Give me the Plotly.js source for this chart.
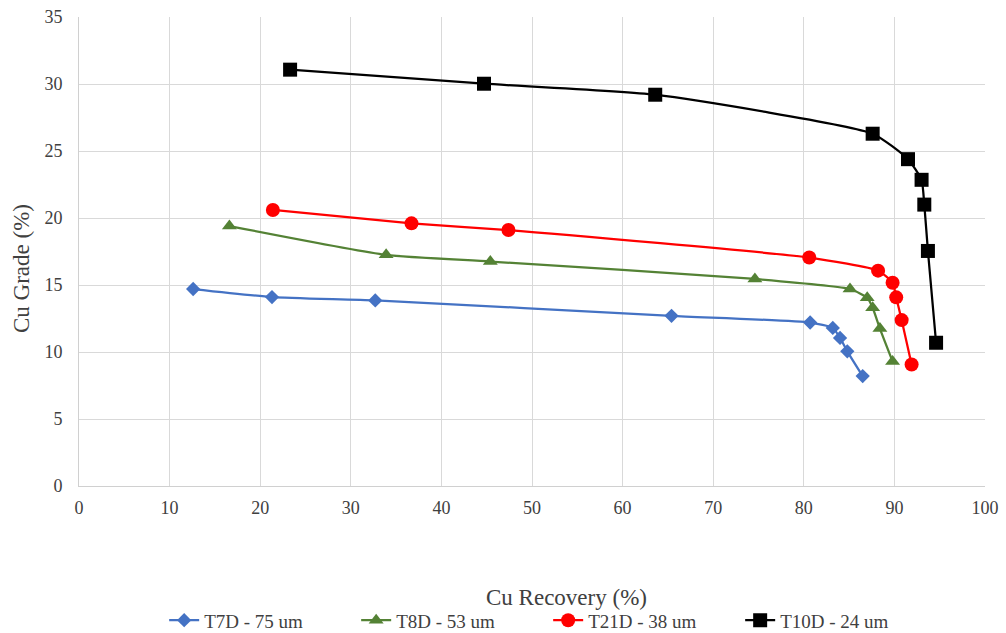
<!DOCTYPE html>
<html>
<head>
<meta charset="utf-8">
<script src="https://cdn.plot.ly/plotly-3.0.1.min.js"></script>
<style>html,body{margin:0;padding:0;background:#fff;}#chart{width:1006px;height:633px;}</style>
</head>
<body>
<div id="chart"></div>
<script>
// T7D - 75 um
const t7dRecovery = [12.6, 21.3, 32.7, 65.4, 80.7, 83.2, 84.0, 84.8, 86.5];
const t7dGrade    = [14.7, 14.1, 13.85, 12.7, 12.2, 11.8, 11.05, 10.05, 8.2];
// T8D - 53 um
const t8dRecovery = [16.6, 33.9, 45.4, 74.6, 85.1, 87.0, 87.6, 88.4, 89.8];
const t8dGrade    = [19.4, 17.25, 16.75, 15.45, 14.7, 14.05, 13.3, 11.75, 9.3];
// T21D - 38 um
const t21dRecovery = [21.4, 36.7, 47.4, 80.6, 88.2, 89.8, 90.2, 90.8, 91.9];
const t21dGrade    = [20.6, 19.6, 19.1, 17.05, 16.07, 15.17, 14.08, 12.38, 9.07];
// T10D - 24 um
const t10dRecovery = [23.3, 44.7, 63.6, 87.6, 91.5, 93.0, 93.3, 93.7, 94.6];
const t10dGrade    = [31.07, 30.02, 29.2, 26.29, 24.39, 22.85, 21.0, 17.54, 10.69];

const seriesNames = ["T7D - 75 um", "T8D - 53 um", "T21D - 38 um", "T10D - 24 um"];
const xTitle = "Cu Recovery (%)";
const yTitle = "Cu Grade (%)";
const xTicks = [0, 10, 20, 30, 40, 50, 60, 70, 80, 90, 100];
const yTicks = [0, 5, 10, 15, 20, 25, 30, 35];

function mk(x, y, name, color, symbol, size) {
  return {
    x: x, y: y, name: name, type: 'scatter', mode: 'lines+markers',
    line: {color: color, width: 2.25, shape: 'spline', smoothing: 0.5},
    marker: {color: color, symbol: symbol, size: size, line: {width: 0}}
  };
}

const data = [
  mk(t7dRecovery, t7dGrade, seriesNames[0], '#4472C4', 'diamond', 11),
  mk(t8dRecovery, t8dGrade, seriesNames[1], '#548235', 'triangle-up', 13),
  mk(t21dRecovery, t21dGrade, seriesNames[2], '#FF0000', 'circle', 14),
  mk(t10dRecovery, t10dGrade, seriesNames[3], '#000000', 'square', 14)
];

const fontFam = 'Liberation Serif, Times New Roman, serif';
const titleFont = {family: fontFam, size: 23, color: '#404040'};
const layout = {
  width: 1006, height: 633,
  margin: {l: 79, r: 21, t: 17, b: 147, pad: 0, autoexpand: false},
  paper_bgcolor: '#ffffff', plot_bgcolor: '#ffffff',
  font: {family: fontFam, color: '#404040', size: 18},
  showlegend: true,
  legend: {
    orientation: 'h', x: 0.094, xanchor: 'left', y: -0.246, yanchor: 'top',
    font: {family: fontFam, size: 19, color: '#404040'},
    entrywidth: 147, entrywidthmode: 'pixels', itemwidth: 30,
    tracegroupgap: 0
  },
  xaxis: {
    range: [0, 100], tickvals: xTicks, ticktext: xTicks.map(String),
    showgrid: true, gridcolor: '#d9d9d9', gridwidth: 1,
    showline: true, linecolor: '#d0d0d0', linewidth: 1, mirror: false,
    zeroline: false, ticks: '', ticklen: 0, ticklabelstandoff: 5,
    tickfont: {family: fontFam, size: 18, color: '#404040'}
  },
  yaxis: {
    range: [0, 35], tickvals: yTicks, ticktext: yTicks.map(String),
    showgrid: true, gridcolor: '#d9d9d9', gridwidth: 1,
    showline: true, linecolor: '#d0d0d0', linewidth: 1,
    zeroline: false, ticks: '', ticklen: 0, ticklabelstandoff: 12,
    tickfont: {family: fontFam, size: 18, color: '#404040'}
  },
  annotations: [
    {text: xTitle, xref: 'paper', yref: 'paper', x: 0.5386, y: -0.2367,
     xanchor: 'center', yanchor: 'middle', showarrow: false, font: titleFont},
    {text: yTitle, xref: 'paper', yref: 'paper', x: -0.0629, y: 0.4627,
     xanchor: 'center', yanchor: 'middle', textangle: -90, showarrow: false, font: titleFont}
  ]
};

Plotly.newPlot('chart', data, layout, {displayModeBar: false, staticPlot: true});
</script>
</body>
</html>
